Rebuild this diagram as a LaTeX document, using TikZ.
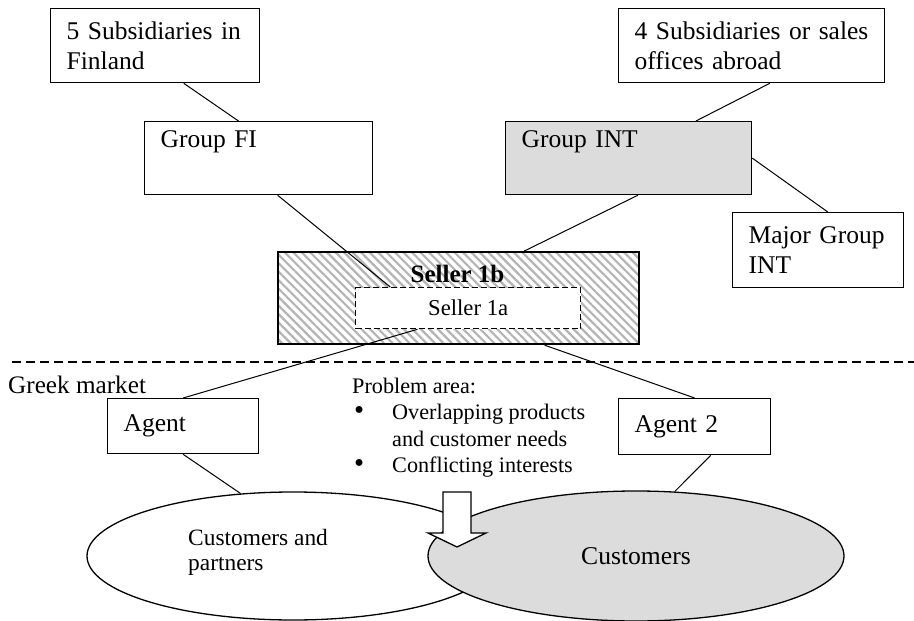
\documentclass[tikz,border=0pt]{standalone}
\usepackage{fontspec}
\setmainfont{Liberation Serif}
\usetikzlibrary{shapes,arrows,positioning,fit,calc,patterns.meta}

\definecolor{grpgray}{RGB}{220,220,220}
\definecolor{hatchgray}{RGB}{180,180,180}

\newcommand{\pabullet}{\hspace*{2pt}\smash{\scalebox{1.3}{\textbullet}}}

\tikzset{
  box/.style={draw, rectangle, line width=1.3pt, fill=white, anchor=north west, align=left,
    inner xsep=16pt, inner ysep=0pt, font=\fontsize{25.5}{30}\selectfont},
  link/.style={line width=1pt},
}

\begin{document}
\begin{tikzpicture}[x=1pt, y=-1pt]
                    \useasboundingbox (0,0) rectangle (914,621);

                    \node[box, text width=177pt, minimum height=74pt] (sfi) at (50,8) {5 Subsidiaries in\\Finland};
                    \node[box, text width=234pt, minimum height=74pt] (sint) at (618,8) {4 Subsidiaries or sales\\offices abroad};
                    \node[box, text width=196pt, minimum height=73pt] (gfi) at (144,121) {Group FI\\\strut};
                    \node[box, fill=grpgray, text width=214pt, minimum height=73pt] (gint) at (505,121) {Group INT\\\strut};
                    \node[box, text width=139pt, minimum height=75pt] (mint) at (732,212) {Major Group\\INT};

                    \node[draw, line width=1.3pt, anchor=north west, minimum width=361pt, minimum height=92pt,
                          pattern={Lines[angle=-45, distance=6pt, line width=2.2pt]}, pattern color=hatchgray] (s1b) at (277,251) {};
                    \node[draw, dashed, dash pattern=on 6pt off 3pt, line width=1.3pt, fill=white, anchor=north west,
                          minimum width=225pt, minimum height=41pt, font=\fontsize{22.7}{26}\selectfont] (s1a) at (355,287) {Seller 1a};
                    \node[font=\fontsize{25}{30}\selectfont\bfseries] (s1bt) at (457.5,274) {Seller 1b};

                    \coordinate (dl) at (12,362);
                    \coordinate (dr) at (914,362);
                    \draw[line width=1.3pt, dash pattern=on 9pt off 5pt] (dl) -- (dr);

                    \node[anchor=base west, inner sep=0pt, font=\fontsize{25.2}{30}\selectfont] (gm) at (8,393) {Greek market};
                    \node[box, text width=119pt, minimum height=55pt] (ag) at (107,398) {Agent};
                    \node[box, text width=120pt, minimum height=56pt] (ag2) at (618,398) {Agent 2};

                    \node[anchor=north west, inner sep=0pt, font=\fontsize{22.2}{26.5}\selectfont] (pa) at (352,374.5) {%
                      \begin{tabular}{@{}p{40pt}@{}l@{}}
                        \multicolumn{2}{@{}l@{}}{Problem area:}\\
                        \pabullet & Overlapping products\\
                         & and customer needs\\
                        \pabullet & Conflicting interests
                      \end{tabular}};

                    \node[draw, ellipse, line width=1.3pt, fill=white, inner sep=0pt, minimum width=412pt, minimum height=128pt] (cp) at (293,556) {};
                    \node[anchor=west, inner sep=0pt, align=left, font=\fontsize{23.4}{25}\selectfont] (cpt) at (188,552) {Customers and\\partners};
                    \node[draw, ellipse, line width=1.3pt, fill=grpgray, inner sep=0pt, minimum width=416pt, minimum height=130pt,
                          font=\fontsize{25.6}{30}\selectfont] (cu) at (636,556) {Customers};

                    \draw[line width=1.3pt, fill=white] (443,492) -- (471,492) -- (471,533) -- (486,533) -- (457,547) -- (428,533) -- (443,533) -- cycle;

                    \draw[link] ($(sfi.south west)!0.636!(sfi.south east)$) -- ($(gfi.north west)!0.412!(gfi.north east)$);
                    \draw[link] ($(sint.south west)!0.568!(sint.south east)$) -- ($(gint.north west)!0.772!(gint.north east)$);
                    \draw[link] (gint.east) -- ($(mint.north west)!0.556!(mint.north east)$);
                    \draw[link] ($(gfi.south west)!0.583!(gfi.south east)$) -- ($(s1a.north west)!0.156!(s1a.north east)$);
                    \draw[link] ($(gint.south west)!0.537!(gint.south east)$) -- ($(s1b.north west)!0.681!(s1b.north east)$);
                    \draw[link] ($(s1a.south west)!0.276!(s1a.south east)$) -- (ag.north);
                    \draw[link] ($(s1b.south west)!0.737!(s1b.south east)$) -- (ag2.north);
                    \draw[link] (ag.south) -- (cp.130);
                    \draw[link] ($(ag2.south west)!0.605!(ag2.south east)$) -- (cu.59);
                \end{tikzpicture}
\end{document}
